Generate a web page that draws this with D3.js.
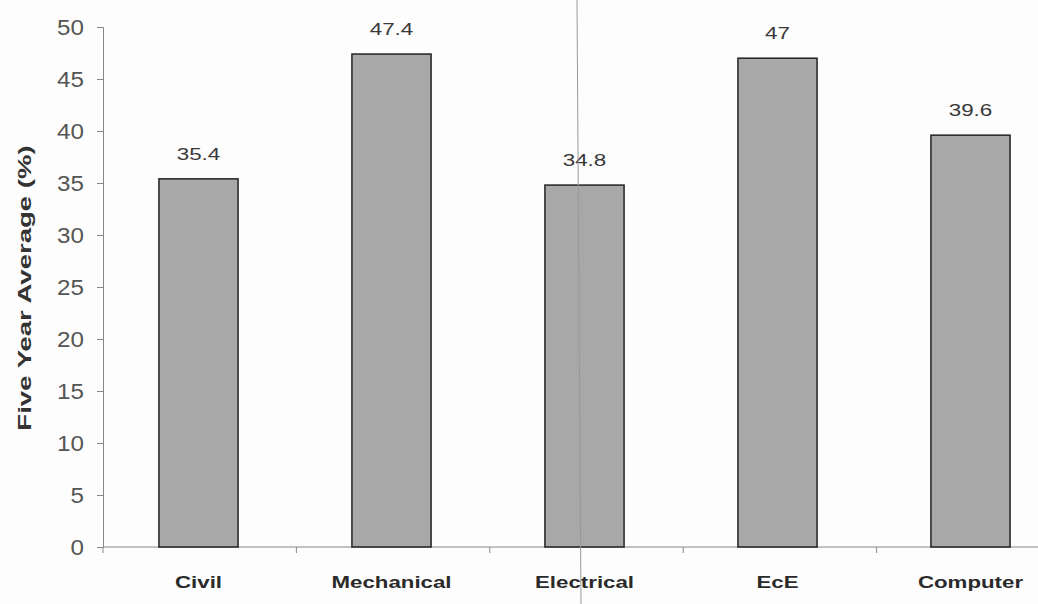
<!DOCTYPE html>
<html><head><meta charset="utf-8">
<script src="https://cdn.jsdelivr.net/npm/d3@7"></script>
<style>body{margin:0;background:#fff}</style>
</head><body>
<svg id="c" width="1038" height="604"></svg>
<script>
const categories = ["Civil","Mechanical","Electrical","EcE","Computer"];
const values = [35.4, 47.4, 34.8, 47, 39.6];
const valueLabels = ["35.4","47.4","34.8","47","39.6"];
const yTicks = [0,5,10,15,20,25,30,35,40,45,50];

(function(){
const svg = d3.select("#c");
const FONT = "Liberation Sans, Arial, sans-serif";
const mLeft = 103, mRight = 1070, mTop = 27, mBottom = 547;
const x = d3.scaleBand().domain(categories).range([mLeft - 1, mRight - 3]).paddingInner(0.59).paddingOuter(0.295);
const xb = d3.scaleBand().domain(categories).range([mLeft, mRight]);
const y = d3.scaleLinear().domain([0,50]).range([mBottom, mTop]);

svg.append("rect").attr("width",1038).attr("height",604).attr("fill","#fdfdfd");

// y axis
const ya = svg.append("g").attr("transform",`translate(${mLeft},0)`)
  .call(d3.axisLeft(y).tickValues(yTicks).tickSize(6).tickFormat(() => ""));
ya.select(".domain").attr("stroke","#888").attr("stroke-width",1);
ya.selectAll(".tick line").attr("stroke","#888");
svg.selectAll(".yl").data(yTicks).enter().append("text")
  .attr("transform", d => `translate(84,${y(d)}) scale(1.1,1)`)
  .attr("dy","0.36em").attr("text-anchor","end")
  .attr("font-family",FONT).attr("font-size",22).attr("fill","#555").text(d => d);

// x axis
svg.append("line").attr("x1",mLeft).attr("x2",1038).attr("y1",mBottom).attr("y2",mBottom).attr("stroke","#888").attr("stroke-width",1);
svg.selectAll(".xt").data(categories).enter().append("line")
  .attr("x1",d=>xb(d)).attr("x2",d=>xb(d)).attr("y1",mBottom).attr("y2",mBottom+6).attr("stroke","#888");
svg.selectAll(".xl").data(categories).enter().append("text")
  .attr("transform", d => `translate(${x(d)+x.bandwidth()/2},${mBottom+41}) scale(1.35,1)`)
  .attr("text-anchor","middle").attr("font-family",FONT)
  .attr("font-weight","bold").attr("font-size",16.5).attr("fill","#2a2a2a").text(d=>d);

// bars
svg.selectAll(".bar").data(values).enter().append("rect")
  .attr("x",(d,i)=>x(categories[i])).attr("width",x.bandwidth())
  .attr("y",d=>y(d)).attr("height",d=>mBottom-y(d))
  .attr("fill","#a8a8a8").attr("stroke","#222").attr("stroke-width",1.5);

// value labels
svg.selectAll(".vl").data(values).enter().append("text")
  .attr("transform",(d,i)=>`translate(${x(categories[i])+x.bandwidth()/2},${y(d)-19}) scale(1.4,1)`)
  .attr("text-anchor","middle").attr("font-family",FONT)
  .attr("font-size",16).attr("fill","#383838").text((d,i)=>valueLabels[i]);

// y title
svg.append("text").attr("transform",`translate(31,288) rotate(-90) scale(1.45,1)`)
  .attr("text-anchor","middle").attr("font-family",FONT)
  .attr("font-weight","bold").attr("font-size",19).attr("fill","#333").text("Five Year Average (%)");

// scan fold line
svg.append("line").attr("x1",577).attr("x2",581).attr("y1",0).attr("y2",604).attr("stroke","#999").attr("stroke-width",1);
})();
</script>
</body></html>
